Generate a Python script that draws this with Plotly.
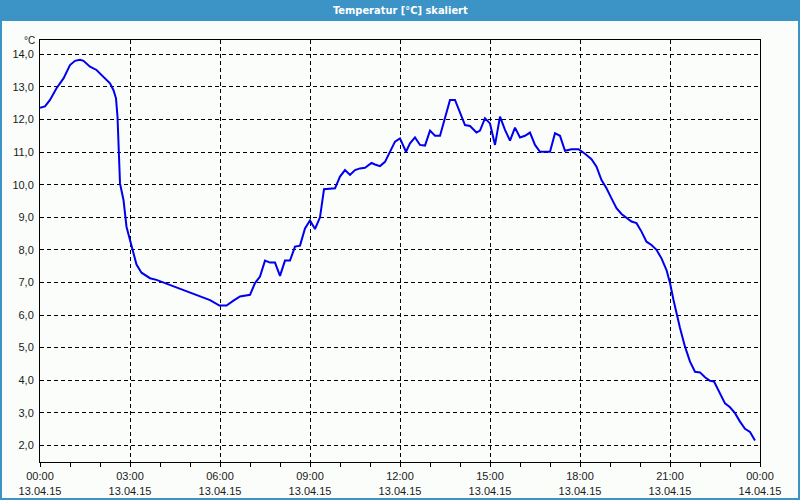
import plotly.graph_objects as go

# ---- data ----
times = ["00:00","00:10","00:20","00:33","00:47","01:00","01:10","01:20","01:27","01:40",
         "01:53","02:07","02:20","02:27","02:32","02:35","02:37","02:40","02:47","02:53",
         "03:00","03:07","03:13","03:23","03:40","03:53","04:07","04:20","04:40","05:00",
         "05:20","05:40","05:59","06:13","06:27","06:40","07:00","07:10","07:20","07:30",
         "07:40","07:50","08:00","08:10","08:20","08:30","08:40","08:50","09:00","09:10",
         "09:20","09:28","09:50","10:00","10:10","10:20","10:30","10:40","10:50","11:03",
         "11:10","11:20","11:30","11:40","11:50","12:00","12:12","12:20","12:30","12:40",
         "12:50","13:00","13:10","13:20","13:30","13:40","13:50","14:00","14:10","14:20",
         "14:33","14:40","14:50","15:00","15:10","15:20","15:30","15:40","15:50","16:00",
         "16:10","16:20","16:30","16:40","17:00","17:10","17:20","17:30","17:43","17:57",
         "18:10","18:23","18:33","18:43","18:53","19:03","19:13","19:23","19:33","19:43",
         "19:53","20:03","20:13","20:23","20:33","20:43","20:53","21:00","21:07","21:13",
         "21:20","21:30","21:40","21:50","22:00","22:10","22:20","22:28","22:40","22:50",
         "23:00","23:10","23:20","23:30","23:40","23:50"]
temps = [12.36,12.40,12.60,12.96,13.26,13.67,13.80,13.83,13.80,13.62,
         13.52,13.31,13.11,12.90,12.65,12.09,11.12,10.04,9.53,8.71,
         8.30,7.90,7.55,7.30,7.13,7.08,7.00,6.92,6.79,6.70,
         6.58,6.46,6.29,6.29,6.44,6.57,6.62,6.98,7.18,7.67,
         7.61,7.61,7.20,7.67,7.67,8.10,8.13,8.66,8.90,8.64,
         9.00,9.86,9.89,10.25,10.45,10.30,10.45,10.50,10.52,10.67,
         10.62,10.57,10.70,11.01,11.32,11.42,11.01,11.27,11.45,11.22,
         11.20,11.66,11.50,11.50,12.09,12.60,12.60,12.19,11.83,11.80,
         11.60,11.66,12.04,11.88,11.22,12.09,11.68,11.35,11.75,11.45,
         11.50,11.60,11.22,11.01,11.01,11.58,11.50,11.04,11.09,11.09,
         10.95,10.78,10.55,10.14,9.89,9.58,9.28,9.10,8.97,8.87,
         8.82,8.56,8.25,8.15,8.00,7.74,7.38,6.98,6.46,6.06,
         5.60,5.03,4.57,4.26,4.24,4.09,3.98,3.96,3.60,3.29,
         3.17,2.99,2.73,2.51,2.41,2.15]
day = "2015-04-13"
x_vals = [f"{day} {t}" for t in times]

title_text = "Temperatur [°C] skaliert"
unit_text = "°C"

# ---- layout geometry ----
W, H = 800, 500
ML, MR, MT, MB = 40, 40, 40, 38
PW, PH = W - ML - MR, H - MT - MB


def px(xp):
    return (xp - ML) / PW


def py(yp):
    return (H - MB - yp) / PH


BLUE = "#3b93c6"
BG = "#fafdfa"
FONT = "Liberation Sans, Arial, sans-serif"

fig = go.Figure()
fig.add_trace(go.Scatter(
    x=x_vals, y=temps, mode="lines",
    line=dict(color="#0000ee", width=2),
    hoverinfo="skip", showlegend=False,
))

grid = dict(showgrid=True, gridcolor="#000000", gridwidth=1, griddash="4px,3px",
            showline=True, linecolor="#000000", linewidth=1, mirror=True,
            zeroline=False, automargin=False)

fig.update_layout(
    width=W, height=H,
    margin=dict(l=ML, r=MR, t=MT, b=MB, pad=0, autoexpand=False),
    paper_bgcolor=BG, plot_bgcolor=BG,
    separators=",.",
    font=dict(family=FONT, size=11, color="#1a1a1a"),
    xaxis=dict(
        type="date",
        range=["2015-04-13 00:00", "2015-04-14 00:00"],
        tick0="2015-04-13 00:00", dtick=3 * 3600000,
        tickformat="%H:%M<br>%d.%m.%y",
        ticks="outside", ticklen=4, tickcolor="#000000", tickwidth=1,
        minor=dict(dtick=3600000, ticks="outside", ticklen=4, tickcolor="#000000",
                   showgrid=False),
        tickfont=dict(family=FONT, size=11, color="#1a1a1a"),
        **grid,
    ),
    yaxis=dict(
        range=[1.49, 14.44],
        tick0=0, dtick=1, tickformat=".1f",
        ticks="", ticklabelstandoff=3,
        tickfont=dict(family=FONT, size=11, color="#1a1a1a"),
        **grid,
    ),
    shapes=[
        # title bar
        dict(type="rect", xref="paper", yref="paper",
             x0=px(0), x1=px(W), y0=py(21), y1=py(0),
             fillcolor=BLUE, line=dict(width=0), layer="above"),
        # window border
        dict(type="line", xref="paper", yref="paper",
             x0=px(1), x1=px(1), y0=py(H), y1=py(20),
             line=dict(color=BLUE, width=2)),
        dict(type="line", xref="paper", yref="paper",
             x0=px(W - 1), x1=px(W - 1), y0=py(H), y1=py(20),
             line=dict(color=BLUE, width=2)),
        dict(type="line", xref="paper", yref="paper",
             x0=px(0), x1=px(W), y0=py(H - 1), y1=py(H - 1),
             line=dict(color=BLUE, width=2)),
    ],
    annotations=[
        dict(text="<b>" + title_text + "</b>", xref="paper", yref="paper",
             x=px(400), y=py(10.5), xanchor="center", yanchor="middle",
             showarrow=False,
             font=dict(family="Liberation Sans Narrow, DejaVu Sans Condensed, Liberation Sans",
                       size=11, color="#ffffff")),
        dict(text=unit_text, xref="paper", yref="paper",
             x=px(37), y=py(41), xanchor="right", yanchor="middle",
             showarrow=False,
             font=dict(family=FONT, size=10, color="#1a1a1a")),
    ],
)

fig.write_html("out.html")
